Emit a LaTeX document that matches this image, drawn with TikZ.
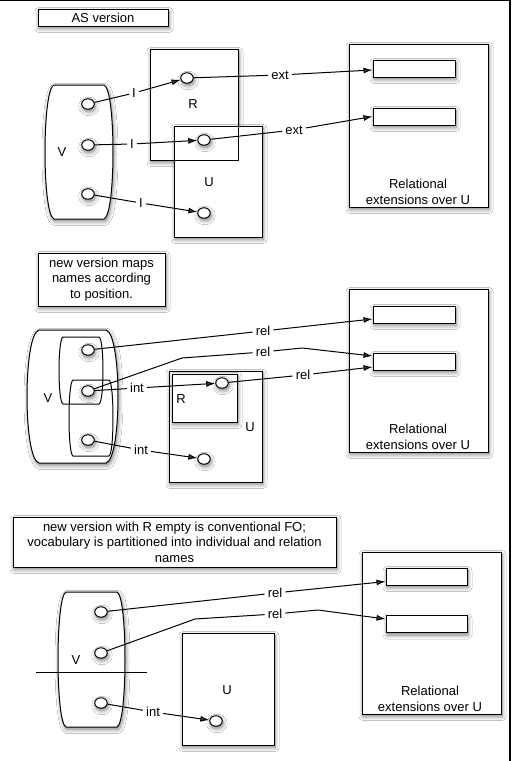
\documentclass[tikz,border=0pt]{standalone}
\usepackage{fontspec}
\setmainfont{Liberation Sans}
\usetikzlibrary{arrows.meta,shapes.geometric,shadows.blur}
\tikzset{
  sh/.style={blur shadow={shadow xshift=1pt,shadow yshift=-2.5pt,shadow blur radius=4pt,shadow blur steps=8,shadow opacity=50}},
  ln/.style={line width=1pt},
  box/.style={draw,line width=1pt,fill=white,sh,inner sep=0pt},
  nobox/.style={draw,line width=1pt,inner sep=0pt},
  dot/.style={draw,ellipse,minimum width=12.5pt,minimum height=10.5pt,inner sep=0pt,fill=white,line width=1pt,sh},
  lab/.style={inner sep=3pt},
  txt/.style={align=center,inner sep=0pt},
  arr/.style={line width=1pt,-{Latex[length=9pt,width=6pt]}},
  vbox/.style={draw,line width=1pt,fill=white,sh},
  vin/.style={draw,line width=1pt},
  every node/.style={font=\fontsize{13}{15.5}\selectfont}
}
% x1 x2 y1 y2 inset vertical-control style
\newcommand\barrelshape[7]{%
  \pgfmathsetmacro\bxa{#1+#5}\pgfmathsetmacro\bxb{#2-#5}%
  \pgfmathsetmacro\cxa{#1-#5/3}\pgfmathsetmacro\cxb{#2+#5/3}%
  \pgfmathsetmacro\cya{#3+#6}\pgfmathsetmacro\cyb{#4-#6}%
  \path[#7] (\bxa,#3) -- (\bxb,#3) .. controls (\cxb,\cya) and (\cxb,\cyb) .. (\bxb,#4) -- (\bxa,#4) .. controls (\cxa,\cyb) and (\cxa,\cya) .. (\bxa,#3) -- cycle;}
\begin{document}
\begin{tikzpicture}[x=1pt,y=-1pt]
\useasboundingbox (0,0) rectangle (513,761);
\fill[white] (0,0) rectangle (513,761);
\draw[line width=1.2pt] (0,0.8) -- (510,0.8) -- (510,761);

% ================= Panel 1 =================
\node[box,minimum width=130pt,minimum height=17pt] (as) at (103,17.5) {AS version};
\barrelshape{45}{113}{85}{219}{9}{4}{vbox}
\node (v1) at (62,152) {V};
\node[box,minimum width=88pt,minimum height=111pt] (r1) at (194,104.5) {};
\node[box,minimum width=88pt,minimum height=111pt] (u1) at (218,181.5) {};
\node[nobox,minimum width=88pt,minimum height=111pt] (r1o) at (194,104.5) {};
\node (r1l) at (193,104) {R};
\node (u1l) at (209,182) {U};
\node[box,minimum width=139pt,minimum height=163pt] (e1) at (418.5,125.5) {};
\node[box,minimum width=82pt,minimum height=17pt] (e1a) at (414,68.5) {};
\node[box,minimum width=82pt,minimum height=17pt] (e1b) at (414,116.5) {};
\node[txt] (e1t) at (418,192) {Relational\\extensions over U};

\node[dot] (a1) at (88,104) {};
\node[dot] (a2) at (88,145) {};
\node[dot] (a3) at (88,194) {};
\node[dot] (ar) at (187,78) {};
\node[dot] (au1) at (204,140) {};
\node[dot] (au2) at (204,213) {};
\node[lab] (i1) at (134,93) {I};
\node[lab] (i2) at (132,144) {I};
\node[lab] (i3) at (141,203) {I};
\node[lab] (x1) at (280,75) {ext};
\node[lab] (x2) at (294,130) {ext};
\draw[ln] (a1) -- (i1); \draw[arr] (i1) -- (ar);
\draw[ln] (a2) -- (i2); \draw[arr] (i2) -- (au1);
\draw[ln] (a3) -- (i3); \draw[arr] (i3) -- (au2);
\draw[ln] (ar) -- (x1); \draw[arr] (x1) -- ([yshift=-1.5pt]e1a.west);
\draw[ln] (au1) -- (x2); \draw[arr] (x2) -- (e1b.west);

% ================= Panel 2 =================
\node[box,txt,minimum width=127pt,minimum height=53pt] (n2) at (101.5,279.5) {new version maps\\names according\\to position.};
\barrelshape{27}{118}{330}{463}{12}{4}{vbox}
\barrelshape{59}{103}{337}{404}{4}{2}{vin}
\barrelshape{69}{113}{380}{456}{4}{2}{vin}
\node (v2) at (48,398) {V};
\node[box,minimum width=93pt,minimum height=111pt] (u2) at (215.5,426.5) {};
\node[box,minimum width=65pt,minimum height=48pt] (r2) at (204.5,398) {};
\node (r2l) at (181,399) {R};
\node (u2l) at (250,427) {U};
\node[box,minimum width=139pt,minimum height=163pt] (e2) at (418.5,370.5) {};
\node[box,minimum width=82pt,minimum height=17pt] (e2a) at (414,314.5) {};
\node[box,minimum width=82pt,minimum height=17pt] (e2b) at (414,361.5) {};
\node[txt] (e2t) at (418,437) {Relational\\extensions over U};

\node[dot] (b1) at (88,350) {};
\node[dot] (b2) at (88,391) {};
\node[dot] (b3) at (88,440) {};
\node[dot] (br) at (222,383) {};
\node[dot] (bu) at (204,459) {};
\node[lab] (t1) at (137,388) {int};
\node[lab] (t2) at (141,450) {int};
\node[lab] (l1) at (263,331) {rel};
\node[lab] (l2) at (263,352) {rel};
\node[lab] (l3) at (303,375) {rel};
\coordinate (k1) at (182,358);
\coordinate (k2) at (302,348);
\draw[ln] (b2) -- (t1); \draw[arr] (t1) -- (br);
\draw[ln] (b3) -- (t2); \draw[arr] (t2) -- (bu);
\draw[ln] (b1) -- (l1); \draw[arr] (l1) -- ([yshift=-4.5pt]e2a.west);
\draw[ln] (b2) -- (k1) -- (l2); \draw[arr] (l2) -- (k2) -- ([yshift=5.5pt]e2b.west);
\draw[ln] (br) -- (l3); \draw[arr] (l3) -- ([yshift=-5.5pt]e2b.west);

% ================= Panel 3 =================
\node[box,txt,minimum width=323pt,minimum height=50pt] (n3) at (174.5,542) {new version with R empty is conventional FO;\\vocabulary is partitioned into individual and relation\\names};
\barrelshape{58}{125}{592}{727}{8}{4}{vbox}
\draw[ln] (36,672) -- (147,672);
\node (v3) at (76,660) {V};
\node[box,minimum width=92pt,minimum height=112pt] (u3) at (228,689) {};
\node (u3l) at (227,690) {U};
\node[box,minimum width=139pt,minimum height=162pt] (e3) at (431.5,633) {};
\node[box,minimum width=81pt,minimum height=17pt] (e3a) at (426.5,576.5) {};
\node[box,minimum width=81pt,minimum height=17pt] (e3b) at (426.5,624) {};
\node[txt] (e3t) at (430,699) {Relational\\extensions over U};

\node[dot] (c1) at (101,612) {};
\node[dot] (c2) at (101,653) {};
\node[dot] (c3) at (101,703) {};
\node[dot] (cu) at (216,721) {};
\node[lab] (s1) at (153,712) {int};
\node[lab] (m1) at (275,593) {rel};
\node[lab] (m2) at (275,614) {rel};
\coordinate (j1) at (195,619);
\coordinate (j2) at (318,610);
\draw[ln] (c3) -- (s1); \draw[arr] (s1) -- (cu);
\draw[ln] (c1) -- (m1); \draw[arr] (m1) -- ([yshift=-5pt]e3a.west);
\draw[ln] (c2) -- (j1) -- (m2); \draw[arr] (m2) -- (j2) -- ([yshift=5pt]e3b.west);
\end{tikzpicture}
\end{document}
